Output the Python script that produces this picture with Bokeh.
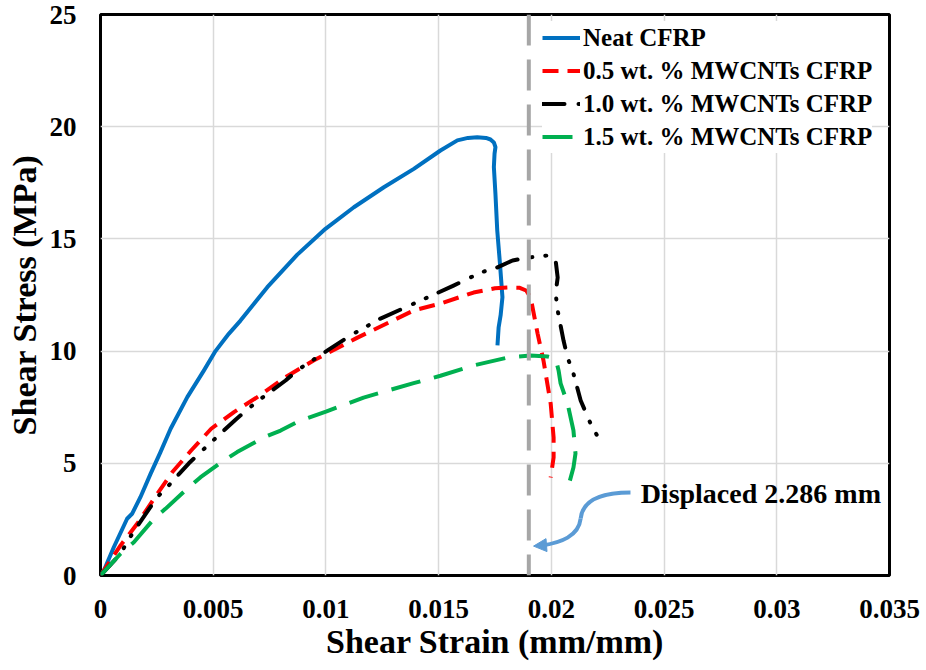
from bokeh.plotting import figure
from bokeh.models import Range1d, FixedTicker, Legend, LegendItem, Span, Arrow, NormalHead, Label
from bokeh.embed import file_html
from bokeh.resources import INLINE

# ---------------- data ----------------
neat_x = [0, 0.00015, 0.00059, 0.00118, 0.0014, 0.00177, 0.00222, 0.00266, 0.00311, 0.00385,
          0.00459, 0.0051, 0.00569, 0.00621, 0.0068, 0.0074, 0.00873, 0.00998, 0.01124, 0.01257,
          0.0139, 0.01508, 0.01583, 0.0163, 0.01671, 0.0171, 0.0173, 0.01745, 0.01752,
          0.01748, 0.01745, 0.01752, 0.0176, 0.01772, 0.01783, 0.01775, 0.01766, 0.01761]
neat_y = [0, 0.22, 1.26, 2.53, 2.75, 3.49, 4.53, 5.5, 6.54, 7.95,
          9.14, 10.0, 10.77, 11.36, 12.1, 12.85, 14.3, 15.45, 16.41, 17.30,
          18.12, 18.94, 19.39, 19.5, 19.53, 19.5, 19.43, 19.3, 19.09,
          18.8, 18.2, 17.0, 15.37, 13.9, 12.4, 11.6, 11.05, 10.25]

mw05_x = [0, 0.00089, 0.00166, 0.00244, 0.00318, 0.00402, 0.00491, 0.00592, 0.00702, 0.00816,
          0.00945, 0.0114, 0.01389, 0.01508, 0.01655, 0.0175, 0.01806, 0.0186, 0.01888,
          0.01908, 0.01939, 0.01965, 0.01997, 0.0201, 0.0201, 0.01997]
mw05_y = [0, 1.34, 2.35, 3.52, 4.6, 5.57, 6.54, 7.28, 7.99, 8.81,
          9.58, 10.6, 11.81, 12.12, 12.61, 12.8, 12.83, 12.82, 12.7,
          12.39, 10.78, 9.58, 7.66, 6.15, 5.26, 4.37]

mw10_x = [0, 0.00089, 0.00126, 0.00166, 0.00251, 0.00296, 0.00343, 0.00392, 0.00444, 0.00547,
          0.00599, 0.00655, 0.0071, 0.00821, 0.00877, 0.01007, 0.01109, 0.01242, 0.0142,
          0.01566, 0.01686, 0.01761, 0.01828, 0.01899, 0.01983, 0.02019, 0.02028, 0.02019,
          0.02028, 0.02054, 0.02072, 0.02098, 0.0213, 0.02174, 0.02227]
mw10_y = [0, 0.97, 1.63, 2.23, 3.49, 3.94, 4.46, 5.0, 5.5, 6.46,
          6.94, 7.43, 7.87, 8.69, 9.17, 10.03, 10.7, 11.45, 12.25,
          12.92, 13.5, 13.73, 14.04, 14.17, 14.26, 14.04, 13.28, 12.57,
          11.81, 10.47, 9.71, 9.0, 7.8, 6.77, 5.79]

mw15_x = [0, 0.00089, 0.00148, 0.00237, 0.00288, 0.00384, 0.00444, 0.00547, 0.00606, 0.00725,
          0.00799, 0.00887, 0.0100, 0.01167, 0.01389, 0.01508, 0.01655, 0.01806, 0.01908,
          0.01983, 0.02019, 0.02032, 0.02041, 0.02072, 0.02098, 0.02107, 0.02098, 0.02076]
mw15_y = [0, 0.97, 1.48, 2.53, 2.97, 3.86, 4.38, 5.12, 5.5, 6.16,
          6.46, 6.91, 7.3, 7.93, 8.57, 8.9, 9.36, 9.71, 9.8,
          9.76, 9.67, 9.14, 8.56, 7.66, 6.46, 5.44, 4.81, 4.0]

series_names = ["Neat CFRP", "0.5 wt. % MWCNTs CFRP", "1.0 wt. % MWCNTs CFRP", "1.5 wt. % MWCNTs CFRP"]

x_ticks = [0, 0.005, 0.01, 0.015, 0.02, 0.025, 0.03, 0.035]
x_tick_labels = ["0", "0.005", "0.01", "0.015", "0.02", "0.025", "0.03", "0.035"]
y_ticks = [0, 5, 10, 15, 20, 25]

displaced_strain = 0.019
annot_text = "Displaced 2.286 mm"
annot_pos = (0.02396, 3.65)
# arrow path (two cubic segments) and head
arrow_seg1 = dict(x0=0.02351, y0=3.70, cx0=0.02218, cy0=3.70, cx1=0.02138, cy1=3.34, x1=0.02130, y1=2.54)
arrow_seg2 = dict(x0=0.02130, y0=2.54, cx0=0.02121, cy0=1.74, cx1=0.02041, cy1=1.47, x1=0.01960, y1=1.34)
arrow_tip = (0.01921, 1.31)

FONT = "Liberation Serif"

p = figure(width=926, height=670, x_range=Range1d(0, 0.035), y_range=Range1d(0, 25),
           output_backend="svg", toolbar_location=None,
           min_border_left=100, min_border_right=37, min_border_top=14, min_border_bottom=95)
p.background_fill_color = "white"
p.border_fill_color = "white"
p.outline_line_color = "black"
p.outline_line_width = 3

for ax in (p.xaxis[0], p.yaxis[0]):
    ax.axis_line_color = None
    ax.major_tick_line_color = None
    ax.minor_tick_line_color = None
    ax.major_tick_out = 0
    ax.major_tick_in = 0
    ax.minor_tick_out = 0
    ax.major_label_text_font = FONT
    ax.major_label_text_font_style = "bold"
    ax.major_label_text_font_size = "27px"
    ax.major_label_text_color = "black"
    ax.axis_label_text_font = FONT
    ax.axis_label_text_font_style = "bold"
    ax.axis_label_text_font_size = "34px"
    ax.axis_label_text_color = "black"

p.xaxis.ticker = FixedTicker(ticks=x_ticks)
p.xaxis.major_label_overrides = {t: l for t, l in zip(x_ticks, x_tick_labels)}
p.yaxis.ticker = FixedTicker(ticks=y_ticks)
p.xaxis.axis_label = "Shear Strain (mm/mm)"
p.yaxis.axis_label = "Shear Stress (MPa)"
p.xaxis.major_label_standoff = 24
p.yaxis.major_label_standoff = 24
p.xaxis.axis_label_standoff = 2
p.yaxis.axis_label_standoff = 4

p.grid.grid_line_color = "#D9D9D9"
p.grid.grid_line_width = 1.5
p.xgrid.ticker = FixedTicker(ticks=x_ticks)
p.ygrid.ticker = FixedTicker(ticks=y_ticks)

span = Span(location=displaced_strain, dimension="height", line_color="#A6A6A6",
            line_width=4, line_dash="31 14")
p.add_layout(span)

r_neat = p.line(neat_x, neat_y, line_color="#0070C0", line_width=4, line_join="round")
r05 = p.line(mw05_x, mw05_y, line_color="#FF0000", line_width=4, line_dash="16 9", line_join="round")
r10 = p.line(mw10_x, mw10_y, line_color="black", line_width=4, line_dash="22 14 1 13 1 13",
             line_cap="round", line_join="round")
r15 = p.line(mw15_x, mw15_y, line_color="#00B050", line_width=4, line_dash="30 14", line_join="round")

acol = "#5B9BD5"
p.bezier(x0=[arrow_seg1["x0"]], y0=[arrow_seg1["y0"]], x1=[arrow_seg1["x1"]], y1=[arrow_seg1["y1"]],
         cx0=[arrow_seg1["cx0"]], cy0=[arrow_seg1["cy0"]], cx1=[arrow_seg1["cx1"]], cy1=[arrow_seg1["cy1"]],
         line_color=acol, line_width=4)
p.bezier(x0=[arrow_seg2["x0"]], y0=[arrow_seg2["y0"]], x1=[arrow_seg2["x1"]], y1=[arrow_seg2["y1"]],
         cx0=[arrow_seg2["cx0"]], cy0=[arrow_seg2["cy0"]], cx1=[arrow_seg2["cx1"]], cy1=[arrow_seg2["cy1"]],
         line_color=acol, line_width=4)
p.add_layout(Arrow(end=NormalHead(size=13, fill_color=acol, line_color=acol, line_width=1),
                   x_start=arrow_seg2["x1"], y_start=arrow_seg2["y1"],
                   x_end=arrow_tip[0], y_end=arrow_tip[1], line_color=acol, line_width=4))

p.add_layout(Label(x=annot_pos[0], y=annot_pos[1], text=annot_text, text_font=FONT,
                   text_font_style="bold", text_font_size="28px", text_baseline="middle",
                   text_color="black"))

legend = Legend(items=[LegendItem(label=n, renderers=[r]) for n, r in
                       zip(series_names, [r_neat, r05, r10, r15])],
                location=(442, 422), orientation="vertical",
                label_text_font=FONT, label_text_font_style="bold", label_text_font_size="25px",
                label_text_color="black", glyph_width=38, glyph_height=33, label_height=33,
                label_standoff=3, spacing=0, padding=6, margin=0,
                border_line_color=None, background_fill_color="white", background_fill_alpha=1.0)
p.add_layout(legend, "center")

open("out.html", "w").write(file_html(p, INLINE))
